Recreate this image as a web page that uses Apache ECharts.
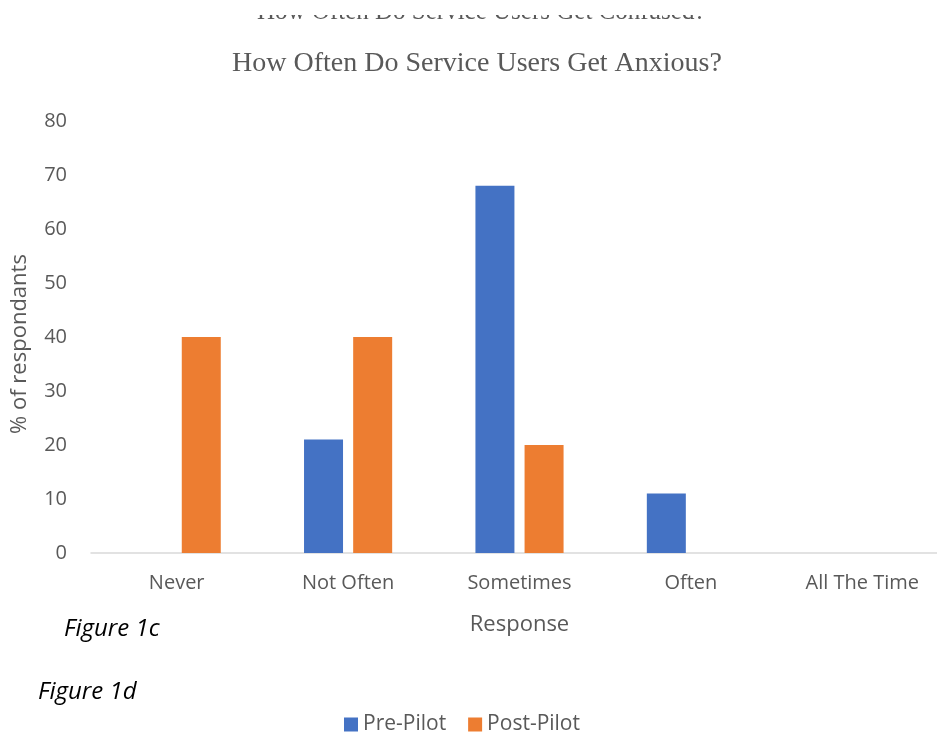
<!DOCTYPE html>
<html>
<head>
<meta charset="utf-8">
<script src="https://cdn.jsdelivr.net/npm/echarts@6/dist/echarts.min.js"></script>
<style>
  html, body { margin: 0; padding: 0; background: #fff; overflow: hidden; width: 937px; height: 741px; }
  #chart { width: 960px; height: 741px; }
</style>
</head>
<body>
<div id="chart"></div>
<script>
// Survey responses: share of respondents per answer, before and after the pilot
const categories = ['Never', 'Not Often', 'Sometimes', 'Often', 'All The Time'];
const prePilot = [0, 21, 68, 11, 0];
const postPilot = [40, 40, 20, 0, 0];
const yTicks = [0, 10, 20, 30, 40, 50, 60, 70, 80];

const grey = '#595959';
const sans = '"Open Sans", "Noto Sans", sans-serif';
const serif = '"Liberation Serif", "Times New Roman", serif';

const chart = echarts.init(document.getElementById('chart'));
chart.setOption({
  backgroundColor: '#ffffff',
  animation: false,
  title: {
    text: 'How Often Do Service Users Get Anxious?',
    left: 472,
    textAlign: 'center',
    top: 45,
    textStyle: { fontFamily: serif, fontWeight: 'normal', fontSize: 28, color: grey }
  },
  legend: {
    bottom: 1,
    left: 339,
    itemWidth: 14,
    itemHeight: 14,
    itemGap: 22,
    icon: 'rect',
    textStyle: { fontFamily: sans, fontSize: 21, color: grey },
    data: ['Pre-Pilot', 'Post-Pilot']
  },
  grid: { left: 91, width: 857, top: 121, height: 432, containLabel: false },
  xAxis: {
    type: 'category',
    data: categories,
    name: 'Response',
    nameLocation: 'middle',
    nameGap: 61,
    nameTextStyle: { fontFamily: sans, fontSize: 22, color: grey },
    axisLine: { lineStyle: { color: '#d9d9d9', width: 1.5 } },
    axisTick: { show: false },
    axisLabel: { fontFamily: sans, fontSize: 20, color: grey, margin: 20 }
  },
  yAxis: {
    type: 'value',
    min: yTicks[0],
    max: yTicks[yTicks.length - 1],
    interval: 10,
    name: '% of respondants',
    nameLocation: 'middle',
    nameGap: 60,
    nameTextStyle: { fontFamily: sans, fontSize: 22, color: grey, padding: [0, 14, 0, 0] },
    splitLine: { show: false },
    axisLine: { show: false },
    axisTick: { show: false },
    axisLabel: { fontFamily: sans, fontSize: 20, color: grey, margin: 24 }
  },
  series: [
    {
      name: 'Pre-Pilot',
      type: 'bar',
      data: prePilot,
      barWidth: 39,
      barGap: '26%',
      itemStyle: { color: '#4472c4' }
    },
    {
      name: 'Post-Pilot',
      type: 'bar',
      data: postPilot,
      barWidth: 39,
      itemStyle: { color: '#ed7d31' }
    }
  ],
  graphic: [
    {
      // previous figure's heading, mostly hidden by the page edge
      type: 'text',
      left: 257,
      top: 0,
      style: { text: 'How Often Do Service Users Get Confused?', font: '25px "Liberation Serif", serif', fill: grey }
    },
    { type: 'rect', shape: { x: 0, y: 0, width: 960, height: 15 }, style: { fill: '#ffffff' }, z: 100 },
    {
      type: 'text', left: 64, top: 617,
      style: { text: 'Figure 1c', font: 'italic 24px "Open Sans", sans-serif', fill: '#000000' }
    },
    {
      type: 'text', left: 38, top: 680,
      style: { text: 'Figure 1d', font: 'italic 24px "Open Sans", sans-serif', fill: '#000000' }
    }
  ]
});
</script>
</body>
</html>
